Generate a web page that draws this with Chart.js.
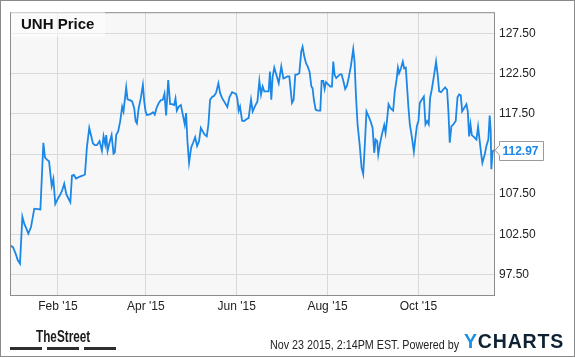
<!DOCTYPE html>
<html><head><meta charset="utf-8">
<script src="https://cdn.jsdelivr.net/npm/chart.js@4.4.1/dist/chart.umd.min.js"></script>
<style>
html,body{margin:0;padding:0;background:#fff;}
body{width:575px;height:358px;position:relative;overflow:hidden;font-family:"Liberation Sans",Arial,sans-serif;}
#frame{position:absolute;left:0;top:0;width:573px;height:355px;border:1px solid #8a8a8a;}
#c{position:absolute;left:0;top:0;}
.abs{position:absolute;white-space:nowrap;}
.bar{position:absolute;top:347px;height:3px;background:#2e2e2e;}
</style></head><body>
<div id="frame"></div>
<canvas id="c" width="575" height="358"></canvas>
<div class="abs" style="left:11px;top:11px;width:94px;height:26px;background:rgba(255,255,255,0.5)"></div>
<div class="abs" id="title" style="left:21px;top:16.3px;font-weight:bold;font-size:15px;line-height:15px;color:#111">UNH Price</div>
<div class="abs" id="street" style="left:35.6px;top:327.5px;font-family:'Liberation Sans Narrow','Liberation Sans',Arial,sans-serif;font-weight:bold;font-size:16.5px;line-height:16.5px;color:#1a1a1a;transform-origin:0 0">TheStreet</div>
<div class="bar" style="left:10px;width:32px"></div>
<div class="bar" style="left:47px;width:32px"></div>
<div class="bar" style="left:84px;width:32px"></div>
<div class="abs" id="stamp" style="left:269.5px;top:338.6px;font-size:12px;line-height:12px;color:#222;transform-origin:0 0">Nov 23 2015, 2:14PM EST. Powered by</div>
<div class="abs" id="logo" style="left:464px;top:332px;font-size:19.5px;line-height:19.5px;font-weight:bold;letter-spacing:0.8px;transform-origin:0 0"><span style="color:#1d8fe3">Y</span><span style="color:#0f2233">CHARTS</span></div>
<script>
const dayOffsets = [
-1.0,0.8,2.6,4.0,5.5,7.1,8.4,9.8,11.1,12.9,15.1,17.4,19.2,21.2,22.3,23.6,25.0,26.8,27.9,29.2,
30.8,32.1,33.7,35.2,36.6,38.2,39.3,40.4,41.7,43.1,45.3,47.5,49.1,50.4,52.0,53.1,54.5,55.8,57.1,58.9,
60.5,61.6,62.7,63.4,64.3,65.6,67.0,68.3,69.2,70.1,71.4,72.8,74.1,75.0,76.8,77.7,79.3,80.8,82.2,83.1,
84.0,85.1,86.6,88.0,88.9,89.8,90.7,92.0,93.3,94.9,96.0,97.1,98.7,100.1,101.4,102.5,103.6,105.0,106.3,107.6,
109.0,109.9,110.8,112.1,113.5,114.8,116.1,117.0,117.9,119.0,120.4,121.7,123.1,124.4,125.7,126.9,128.2,129.5,130.9,132.0,
133.1,134.5,135.8,137.1,138.7,139.8,141.2,143.0,144.7,146.1,147.9,149.2,150.6,151.4,152.3,153.2,154.6,155.9,157.3,159.0,
160.6,161.7,163.1,164.9,166.2,167.3,168.4,169.5,171.1,172.4,173.3,174.2,175.1,176.2,177.6,179.2,180.9,182.3,183.6,185.0,
186.3,188.1,189.2,190.3,191.7,193.0,194.3,195.2,196.4,197.5,198.6,199.9,201.1,201.9,202.8,204.0,205.5,207.1,208.0,209.1,
210.0,210.9,212.2,213.8,214.9,215.8,216.7,217.8,218.9,220.3,221.4,222.7,223.8,225.0,226.1,227.6,229.2,230.1,231.0,232.1,
233.5,234.8,235.9,237.0,238.1,239.5,240.8,242.2,243.3,244.2,245.3,246.0,247.1,248.4,250.0,250.9,252.0,252.9,254.2,256.0,
257.1,258.3,259.2,260.0,261.2,262.5,263.4,264.5,265.4,266.3,267.2,268.5,269.9,270.8,271.9,273.0,273.9,275.2,276.6,277.7,
278.8,279.9,280.8,281.9,283.5,284.8,286.0,286.9,288.2,289.5,290.9,292.2,293.1,294.0,295.1,296.5,298.0,299.2,300.3,301.4,
302.3,303.6,305.2,306.1,307.0,307.9,308.8,310.3,311.9,313.0,313.9,315.0,315.9,317.5,318.6,319.9,320.8,321.5,321.9,322.8,323.7
];
const prices = [
101.1,100.9,100.1,99.3,98.85,104.7,103.8,103.2,102.6,103.4,105.7,105.65,105.6,113.9,112.05,111.8,111.6,108.5,109.4,106.3,
106.9,107.3,107.9,108.8,107.5,106.9,106.5,109.8,109.9,109.45,109.65,109.8,109.95,113.3,115.75,114.9,113.8,113.6,113.6,114.1,
112.9,114.7,113.7,114.85,112.9,113.9,114.85,112.55,112.7,114.9,115.3,116.6,118.4,117.8,120.8,119.3,119.2,119.05,118.2,116.6,
116.3,118.1,119.45,121.1,119.05,117.8,117.35,117.4,117.5,117.7,117.4,118.2,118.85,119.2,119.25,120.0,117.3,121.7,118.7,118.7,
118.6,119.4,117.9,118.4,118.6,117.4,116.2,117.6,114.1,111.4,113.3,113.9,114.6,113.5,114.1,115.75,115.3,114.9,114.7,116.2,
119.25,119.6,119.75,120.1,121.3,120.1,119.45,118.9,118.35,119.55,120.2,120.1,119.95,119.4,117.9,118.4,116.65,116.6,116.8,117.0,
119.25,117.8,118.4,119.05,121.6,119.9,120.9,120.3,120.3,120.3,122.75,119.25,122.1,123.25,122.35,121.3,123.4,121.9,122.0,122.15,
122.15,118.85,119.25,122.35,122.4,122.55,125.25,125.85,124.6,123.8,123.4,122.75,120.9,120.7,119.25,118.0,117.9,117.9,121.6,121.6,
120.6,121.45,121.2,120.9,120.9,124.0,122.35,121.95,122.15,122.4,122.4,121.5,120.6,121.0,121.95,123.4,125.55,124.0,119.9,116.2,
113.7,110.8,110.0,113.7,117.8,117.2,116.6,115.75,112.65,114.3,114.1,112.45,113.7,114.9,116.1,115.1,116.9,118.7,118.2,117.9,
120.3,121.75,123.25,122.55,123.15,124.0,123.15,123.25,120.7,118.2,116.2,114.7,112.8,114.3,115.95,116.65,118.85,119.25,119.65,116.2,
116.6,116.2,119.45,120.5,122.35,124.0,122.15,120.3,120.2,120.5,120.8,120.5,117.8,113.9,115.95,116.2,116.6,119.55,119.9,119.8,
117.8,118.2,118.7,117.8,114.7,116.2,114.85,114.6,114.3,115.9,114.45,112.65,111.4,112.45,113.5,114.3,117.3,115.35,110.6,112.85,112.97
];
const yTicks = [97.5,102.5,107.5,112.5,117.5,122.5,127.5];
const xTickDays = [31,90,151,212,273];
const xTickLabels = ["Feb '15","Apr '15","Jun '15","Aug '15","Oct '15"];

// fit footer wordmarks / stamp to their measured widths in the reference
function fitWidth(id, w){
  const el=document.getElementById(id);
  el.style.transform='scaleX('+(w/el.getBoundingClientRect().width)+')';
}
fitWidth('street', 54.2);
fitWidth('stamp', 189);
fitWidth('logo', 100);

const FONT = "'Liberation Sans', Arial, sans-serif";
const LINE = '#1b87e6';

const frame = {
  id:'frame',
  beforeDraw(c){
    const a=c.chartArea, x=c.ctx;
    x.save(); x.fillStyle='#f7f7f7'; x.fillRect(a.left,a.top,a.right-a.left,a.bottom-a.top); x.restore();
  },
  afterDraw(c){
    const a=c.chartArea, x=c.ctx;
    x.save(); x.strokeStyle='#8c8c8c'; x.lineWidth=1;
    x.strokeRect(a.left+0.5,a.top+0.5,a.right-a.left,a.bottom-a.top);
    // price tag for the last close
    const v=prices[prices.length-1];
    const py=c.scales.y.getPixelForValue(v);
    const bx=a.right+5.5, bw=44, bh=19, by=Math.round(py-bh/2)+0.5;
    x.beginPath();
    x.moveTo(bx,by); x.lineTo(bx+bw,by); x.lineTo(bx+bw,by+bh); x.lineTo(bx,by+bh);
    x.lineTo(bx,py+5); x.lineTo(a.right+1,py); x.lineTo(bx,py-5); x.closePath();
    x.fillStyle='#fff'; x.fill(); x.strokeStyle='#9a9a9a'; x.stroke();
    x.fillStyle=LINE; x.font='bold 12px '+FONT; x.textBaseline='middle'; x.textAlign='left';
    x.fillText(v.toFixed(2), bx+3, by+bh/2+0.5);
    x.restore();
  }
};

new Chart(document.getElementById('c'), {
  type:'line',
  data:{datasets:[{
    data: dayOffsets.map((d,i)=>({x:d,y:prices[i]})),
    borderColor:LINE, borderWidth:1.8, pointRadius:0, tension:0, fill:false
  }]},
  options:{
    responsive:false, animation:false, devicePixelRatio:1,
    layout:{padding:{left:10,top:10,right:0,bottom:0}},
    plugins:{legend:{display:false}, tooltip:{enabled:false}, title:{display:false}},
    scales:{
      x:{
        type:'linear', min:-1.2, max:323.7,
        afterBuildTicks:s=>{s.ticks=xTickDays.map(v=>({value:v}));},
        afterFit:s=>{s.height=63;},
        grid:{color:'#d9d9d9', lineWidth:1, drawTicks:false},
        border:{display:false},
        ticks:{padding:4, color:'#222', maxRotation:0, autoSkip:false, font:{family:FONT,size:12},
          callback:v=>{const i=xTickDays.indexOf(v);return i>=0?xTickLabels[i]:'';}}
      },
      y:{
        position:'right', min:94.95, max:130.15,
        afterBuildTicks:s=>{s.ticks=yTicks.map(v=>({value:v}));},
        afterFit:s=>{s.width=81;},
        grid:{color:'#d9d9d9', lineWidth:1, drawTicks:false},
        border:{display:false},
        ticks:{padding:5, color:'#222', font:{family:FONT,size:12}, callback:v=>v.toFixed(2)}
      }
    }
  },
  plugins:[frame]
});
</script>
</body></html>
